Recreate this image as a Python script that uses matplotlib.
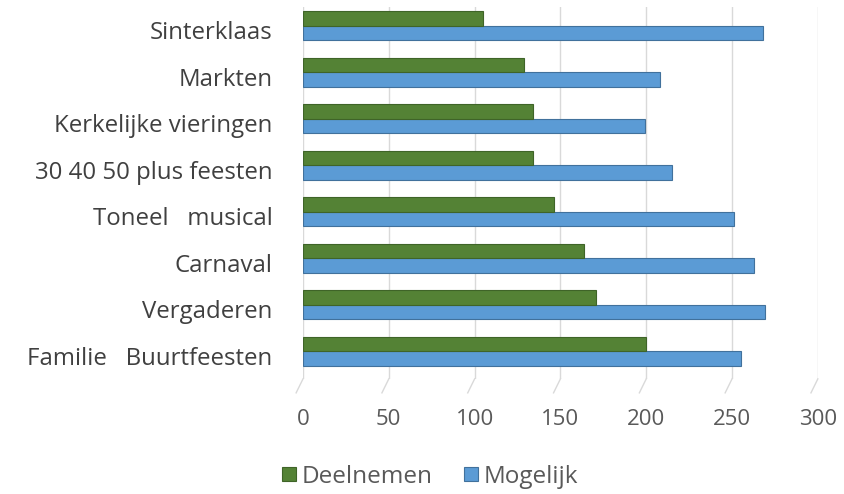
import numpy as np
import matplotlib
matplotlib.use("Agg")
import matplotlib.pyplot as plt

categories = ["Sinterklaas", "Markten", "Kerkelijke vieringen", "30 40 50 plus feesten",
              "Toneel   musical", "Carnaval", "Vergaderen", "Familie   Buurtfeesten"]
deelnemen = [105, 129, 134, 134, 146, 164, 171, 200]
mogelijk = [268, 208, 199, 215, 251, 263, 269, 255]
xticks = [0, 50, 100, 150, 200, 250, 300]

GREEN = "#548235"
BLUE = "#5B9BD5"

plt.rcParams["font.family"] = ["Open Sans", "DejaVu Sans"]

fig = plt.figure(figsize=(8.44, 4.94), dpi=100)
ax = fig.add_axes([0.359, 0.233, 0.61, 0.753])

y = np.arange(len(categories))
h = 0.31
ax.barh(y - 0.25, deelnemen, height=h, color=GREEN, edgecolor="#3f6428", lw=0.8,
        label="Deelnemen", zorder=3)
ax.barh(y + 0.06, mogelijk, height=h, color=BLUE, edgecolor="#41719c", lw=0.8,
        label="Mogelijk", zorder=2)

ax.set_xlim(0, 300)
ax.set_ylim(len(categories) - 0.5, -0.5)
ax.set_xticks(xticks)
ax.set_yticks(y)
ax.set_yticklabels(categories, fontsize=17.3, color="#404040")
ax.tick_params(axis="x", labelsize=16, labelcolor="#595959", length=0, pad=22)
ax.tick_params(axis="y", length=0, pad=22)
ax.grid(axis="x", color="#d9d9d9", lw=1, zorder=0)
for s in ax.spines.values():
    s.set_visible(False)

# slanted floor ticks under the gridlines
for xv in xticks:
    ax.plot([xv, xv - 4], [len(categories) - 0.5, len(categories) - 0.2],
            color="#d9d9d9", lw=1, clip_on=False, zorder=0)

handles, labels = ax.get_legend_handles_labels()
fig.legend(handles, labels, loc="center", bbox_to_anchor=(0.51, 0.035), ncol=2,
           frameon=False, fontsize=17.5, handlelength=0.55, handleheight=0.55,
           handletextpad=0.25, columnspacing=1.3, labelcolor="#595959")

fig.savefig("out.png", dpi=100)
